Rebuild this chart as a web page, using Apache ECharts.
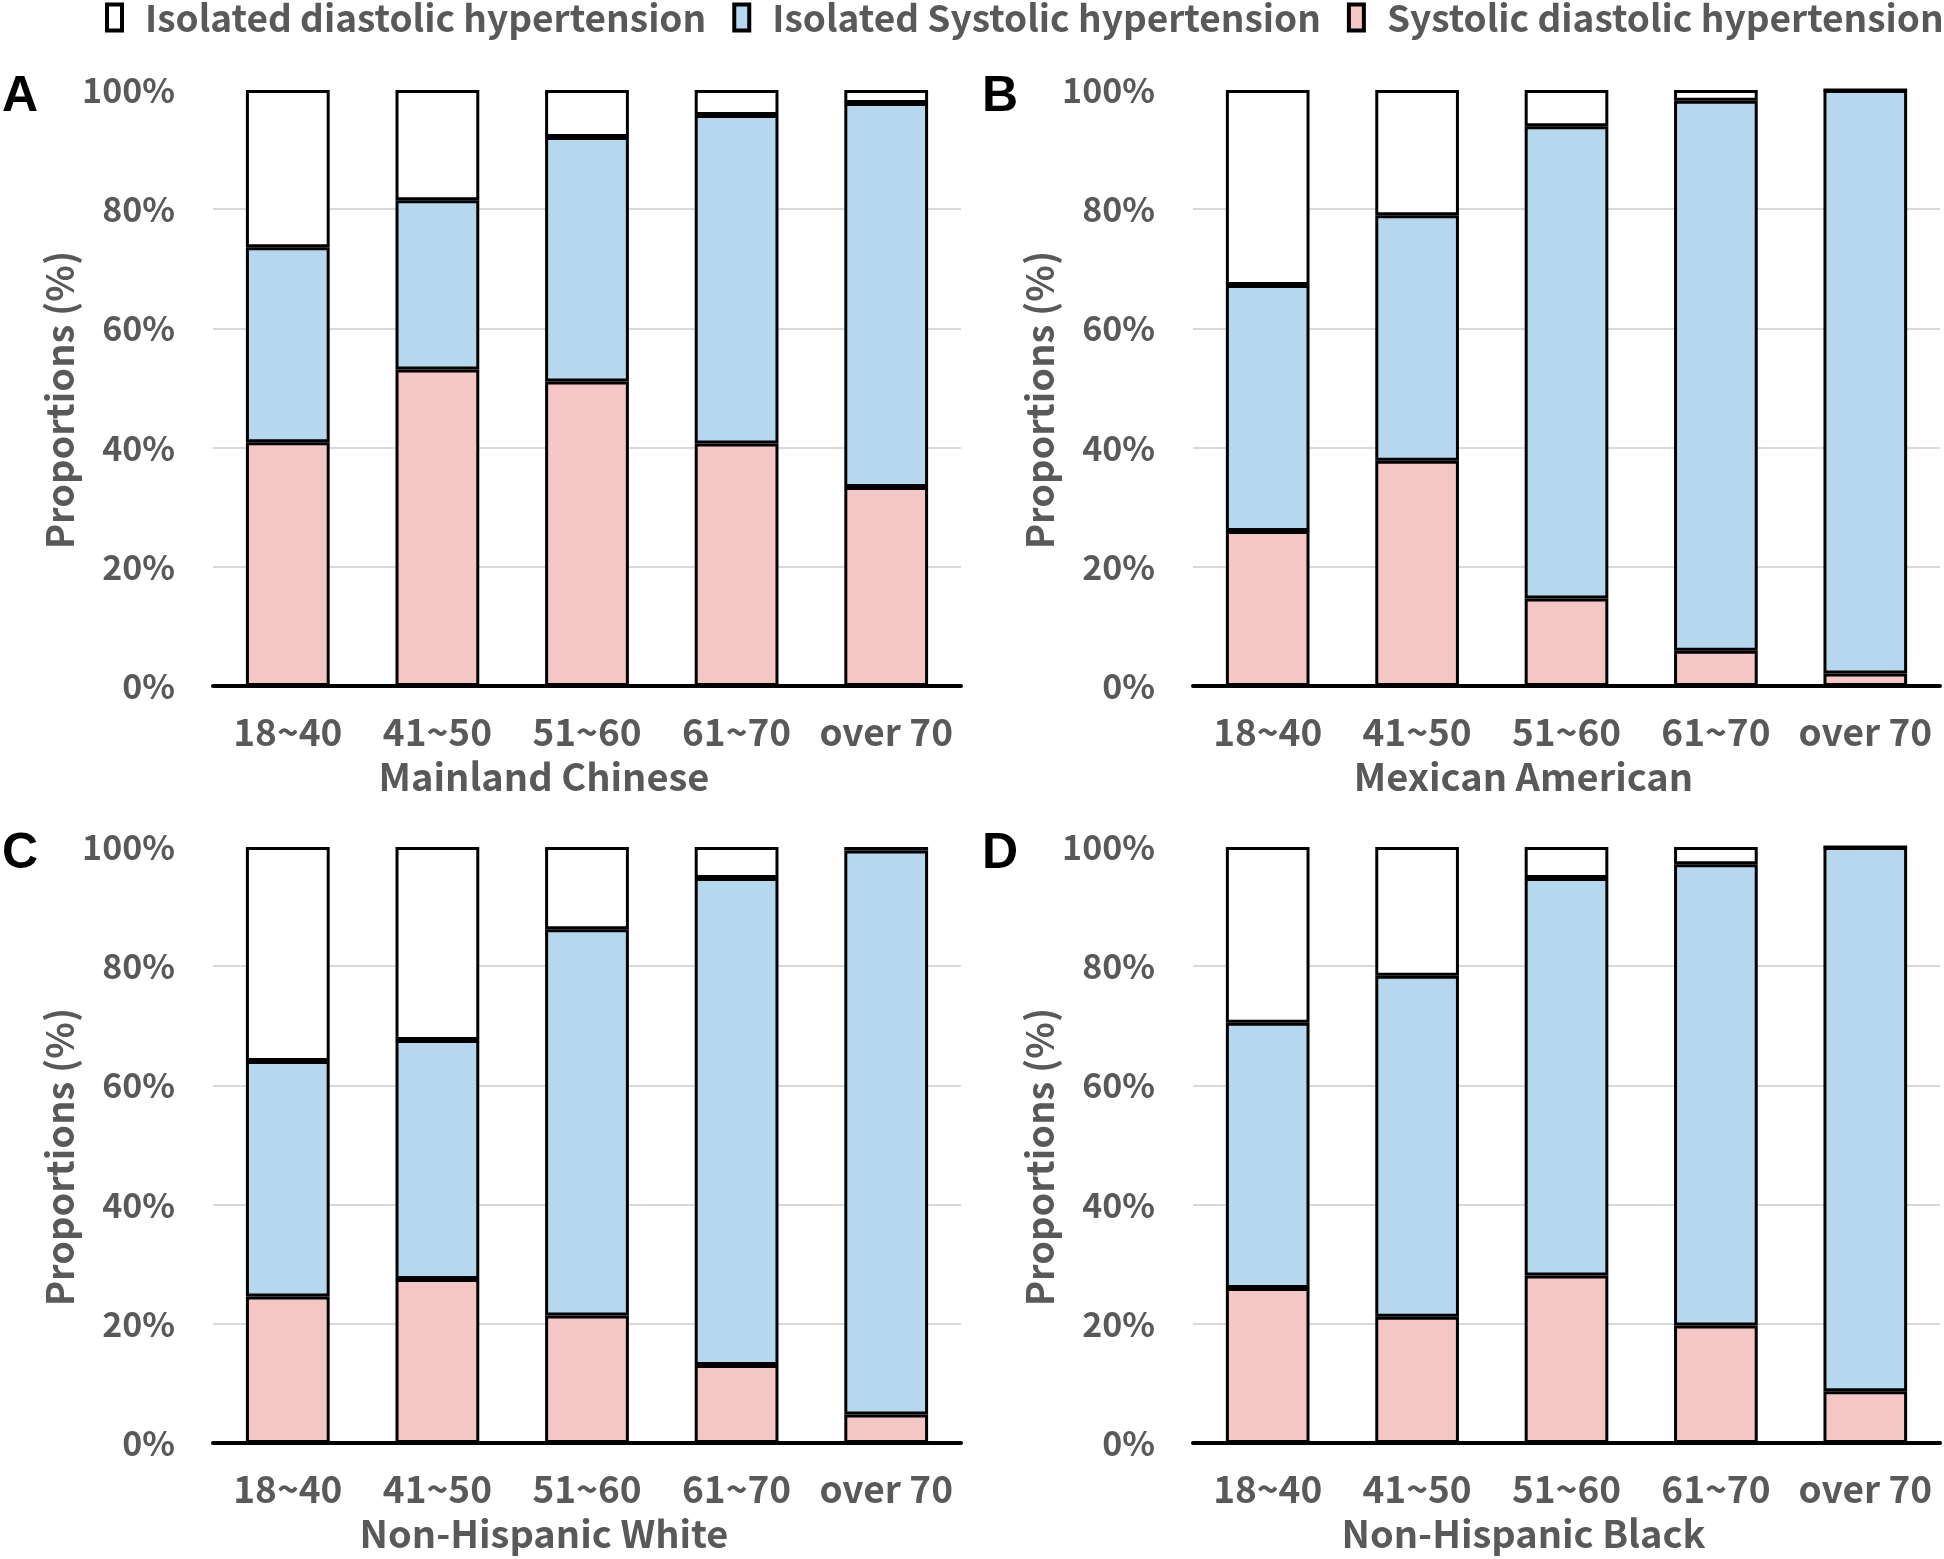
<!DOCTYPE html>
<html>
<head>
<meta charset="utf-8">
<script src="https://cdn.jsdelivr.net/npm/echarts@6/dist/echarts.min.js"></script>
<style>
html,body{margin:0;padding:0;background:#fff;}
#chart{width:1944px;height:1559px;}
</style>
</head>
<body>
<div id="chart"></div>
<script>
const categories = ['18~40', '41~50', '51~60', '61~70', 'over 70'];
const yTicks = [0, 20, 40, 60, 80, 100];
const seriesNames = ['Isolated diastolic hypertension', 'Isolated Systolic hypertension', 'Systolic diastolic hypertension'];
const panelLetters = ['A', 'B', 'C', 'D'];
const panelTitles = ['Mainland Chinese', 'Mexican American', 'Non-Hispanic White', 'Non-Hispanic Black'];

// Systolic diastolic hypertension (pink, bottom)
const sdhA = [40.9, 53.1, 51.1, 40.7, 33.4];
const sdhB = [26.0, 37.8, 14.7, 5.9, 2.1];
const sdhC = [24.6, 27.5, 21.4, 13.1, 4.8];
const sdhD = [26.0, 21.2, 28.1, 19.7, 8.7];
// Isolated systolic hypertension (blue, middle)
const ishA = [32.7, 28.4, 41.0, 55.1, 64.4];
const ishB = [41.3, 41.2, 79.2, 92.3, 97.9];
const ishC = [39.5, 40.1, 64.8, 81.7, 94.6];
const ishD = [44.5, 57.2, 66.7, 77.4, 91.3];
// Isolated diastolic hypertension (white, top)
const idhA = [26.4, 18.5, 7.9, 4.2, 2.2];
const idhB = [32.7, 21.0, 6.1, 1.8, 0];
const idhC = [35.9, 32.4, 13.8, 5.2, 0.6];
const idhD = [29.5, 21.6, 5.2, 2.9, 0];

const sdh = [sdhA, sdhB, sdhC, sdhD];
const ish = [ishA, ishB, ishC, ishD];
const idh = [idhA, idhB, idhC, idhD];

const FONT = '"Noto Sans CJK SC", "Noto Sans", sans-serif';
const GRAY = '#595959';
const fills = ['#ffffff', '#b5d8ee', '#f4c6c5'];

const grids = [
  {left: 213, top: 90, width: 748, height: 596},
  {left: 1193, top: 90, width: 747, height: 596},
  {left: 213, top: 847, width: 748, height: 596},
  {left: 1193, top: 847, width: 747, height: 596}
];

const xAxes = [], yAxes = [], series = [], graphics = [];
grids.forEach((g, i) => {
  xAxes.push({
    type: 'category', gridIndex: i, data: categories,
    axisLine: {show: true, lineStyle: {color: '#000', width: 4}},
    axisTick: {show: false},
    axisLabel: {color: GRAY, fontFamily: FONT, fontWeight: 'bold', fontSize: 37, margin: 27, interval: 0},
    name: panelTitles[i], nameLocation: 'middle', nameGap: 72,
    nameTextStyle: {color: GRAY, fontFamily: FONT, fontWeight: 'bold', fontSize: 38, padding: [0, 86, 0, 0]}
  });
  yAxes.push({
    type: 'value', gridIndex: i, min: 0, max: 100, interval: 20,
    axisLine: {show: false}, axisTick: {show: false},
    axisLabel: {color: GRAY, fontFamily: FONT, fontWeight: 'bold', fontSize: 34, margin: 38,
      formatter: v => v + '%'},
    splitLine: {show: true, showMaxLine: false, lineStyle: {color: '#d9d9d9', width: 2}},
    name: 'Proportions (%)', nameLocation: 'middle', nameGap: 134,
    nameTextStyle: {color: GRAY, fontFamily: FONT, fontWeight: 'bold', fontSize: 38, padding: [0, 24, 0, 0]}
  });
  const data = [sdh[i], ish[i], idh[i]];
  const names = [seriesNames[2], seriesNames[1], seriesNames[0]];
  const cols = [fills[2], fills[1], fills[0]];
  for (let k = 0; k < 3; k++) {
    series.push({
      name: names[k], type: 'bar', stack: 'p' + i,
      xAxisIndex: i, yAxisIndex: i, data: data[k],
      barWidth: '56%',
      itemStyle: {color: cols[k], borderColor: '#000', borderWidth: 3},
      emphasis: {disabled: true},
      z: 2
    });
  }
  graphics.push({
    type: 'text', left: g.left - 211, top: g.top - 18,
    style: {text: panelLetters[i], font: 'bold 50px "Liberation Sans", Arial, sans-serif', fill: '#000'}
  });
});

const chart = echarts.init(document.getElementById('chart'), null, {renderer: 'canvas'});
chart.setOption({
  animation: false,
  backgroundColor: '#fff',
  legend: {
    top: -6, left: 100, width: 1844,
    data: seriesNames.map((n, i) => ({name: n, itemStyle: {color: fills[i], borderColor: '#000', borderWidth: 4}})),
    icon: 'rect', itemWidth: 15, itemHeight: 26, itemGap: 26,
    textStyle: {color: GRAY, fontFamily: FONT, fontWeight: 'bold', fontSize: 37, padding: [0, 0, 0, 18]},
    selectedMode: false
  },
  grid: grids,
  xAxis: xAxes,
  yAxis: yAxes,
  series: series,
  graphic: graphics
});
</script>
</body>
</html>
